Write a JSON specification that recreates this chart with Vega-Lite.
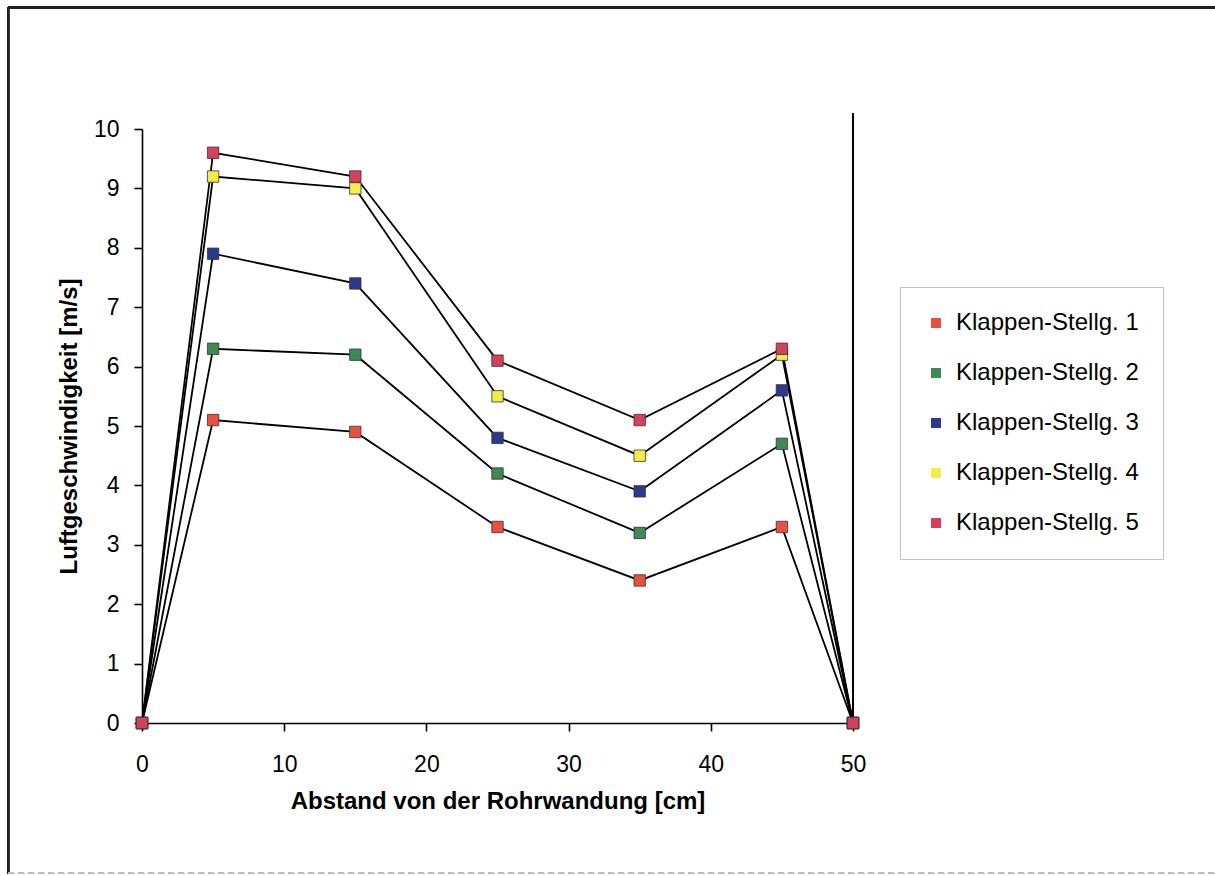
{
  "$schema": "https://vega.github.io/schema/vega-lite/v6.json",
  "width": 711,
  "height": 594,
  "autosize": {"type": "none"},
  "padding": {"left": 142, "top": 129, "right": 362, "bottom": 153},
  "background": "white",
  "config": {
    "view": {"stroke": null},
    "font": "Liberation Sans",
    "axis": {
      "grid": false,
      "domainColor": "black",
      "domainWidth": 1.6,
      "tickColor": "black",
      "tickWidth": 1.6,
      "tickSize": 8,
      "labelColor": "black",
      "labelFontSize": 23,
      "labelFont": "Liberation Sans",
      "titleFont": "Liberation Sans",
      "titleFontSize": 24,
      "titleFontWeight": "bold",
      "titleColor": "black",
      "labelFlush": false,
      "labelOverlap": false
    }
  },
  "data": {
    "values": [
      {"x": 0, "v": 0, "s": "Klappen-Stellg. 1"},
      {"x": 5, "v": 5.1, "s": "Klappen-Stellg. 1"},
      {"x": 15, "v": 4.9, "s": "Klappen-Stellg. 1"},
      {"x": 25, "v": 3.3, "s": "Klappen-Stellg. 1"},
      {"x": 35, "v": 2.4, "s": "Klappen-Stellg. 1"},
      {"x": 45, "v": 3.3, "s": "Klappen-Stellg. 1"},
      {"x": 50, "v": 0, "s": "Klappen-Stellg. 1"},
      {"x": 0, "v": 0, "s": "Klappen-Stellg. 2"},
      {"x": 5, "v": 6.3, "s": "Klappen-Stellg. 2"},
      {"x": 15, "v": 6.2, "s": "Klappen-Stellg. 2"},
      {"x": 25, "v": 4.2, "s": "Klappen-Stellg. 2"},
      {"x": 35, "v": 3.2, "s": "Klappen-Stellg. 2"},
      {"x": 45, "v": 4.7, "s": "Klappen-Stellg. 2"},
      {"x": 50, "v": 0, "s": "Klappen-Stellg. 2"},
      {"x": 0, "v": 0, "s": "Klappen-Stellg. 3"},
      {"x": 5, "v": 7.9, "s": "Klappen-Stellg. 3"},
      {"x": 15, "v": 7.4, "s": "Klappen-Stellg. 3"},
      {"x": 25, "v": 4.8, "s": "Klappen-Stellg. 3"},
      {"x": 35, "v": 3.9, "s": "Klappen-Stellg. 3"},
      {"x": 45, "v": 5.6, "s": "Klappen-Stellg. 3"},
      {"x": 50, "v": 0, "s": "Klappen-Stellg. 3"},
      {"x": 0, "v": 0, "s": "Klappen-Stellg. 4"},
      {"x": 5, "v": 9.2, "s": "Klappen-Stellg. 4"},
      {"x": 15, "v": 9.0, "s": "Klappen-Stellg. 4"},
      {"x": 25, "v": 5.5, "s": "Klappen-Stellg. 4"},
      {"x": 35, "v": 4.5, "s": "Klappen-Stellg. 4"},
      {"x": 45, "v": 6.2, "s": "Klappen-Stellg. 4"},
      {"x": 50, "v": 0, "s": "Klappen-Stellg. 4"},
      {"x": 0, "v": 0, "s": "Klappen-Stellg. 5"},
      {"x": 5, "v": 9.6, "s": "Klappen-Stellg. 5"},
      {"x": 15, "v": 9.2, "s": "Klappen-Stellg. 5"},
      {"x": 25, "v": 6.1, "s": "Klappen-Stellg. 5"},
      {"x": 35, "v": 5.1, "s": "Klappen-Stellg. 5"},
      {"x": 45, "v": 6.3, "s": "Klappen-Stellg. 5"},
      {"x": 50, "v": 0, "s": "Klappen-Stellg. 5"}
    ]
  },
  "layer": [
    {
      "mark": {"type": "rule", "color": "#222", "strokeWidth": 2},
      "encoding": {
        "x": {"datum": -9.42, "type": "quantitative"},
        "x2": {"datum": 76},
        "y": {"datum": 12.05, "type": "quantitative"}
      }
    },
    {
      "mark": {"type": "rule", "color": "#222", "strokeWidth": 2},
      "encoding": {
        "x": {"datum": -9.42, "type": "quantitative"},
        "y": {"datum": -2.53, "type": "quantitative"},
        "y2": {"datum": 12.05}
      }
    },
    {
      "mark": {"type": "rule", "color": "#bbbbbb", "strokeWidth": 1.5, "strokeDash": [6, 4]},
      "encoding": {
        "x": {"datum": -9.42, "type": "quantitative"},
        "x2": {"datum": 76},
        "y": {"datum": -2.53, "type": "quantitative"}
      }
    },
    {
      "mark": {"type": "rule", "color": "black", "strokeWidth": 2},
      "encoding": {
        "x": {"datum": 50, "type": "quantitative"},
        "y": {"datum": 0, "type": "quantitative"},
        "y2": {"datum": 10.27}
      }
    },
    {
      "mark": {"type": "line", "color": "black", "strokeWidth": 1.8},
      "encoding": {
        "x": {
          "field": "x",
          "type": "quantitative",
          "scale": {"domain": [0, 50], "nice": false},
          "axis": {
            "values": [0, 10, 20, 30, 40, 50],
            "format": "d",
            "title": "Abstand von der Rohrwandung [cm]",
            "labelPadding": 22,
            "titlePadding": 13
          }
        },
        "y": {
          "field": "v",
          "type": "quantitative",
          "scale": {"domain": [0, 10], "nice": false},
          "axis": {
            "values": [0, 1, 2, 3, 4, 5, 6, 7, 8, 9, 10],
            "format": "d",
            "title": "Luftgeschwindigkeit [m/s]",
            "labelPadding": 15,
            "titlePadding": 12
          }
        },
        "detail": {"field": "s"}
      }
    },
    {
      "mark": {"type": "point", "shape": "square", "filled": true, "size": 130, "stroke": "#333333", "strokeWidth": 0.8, "opacity": 1},
      "encoding": {
        "x": {"field": "x", "type": "quantitative"},
        "y": {"field": "v", "type": "quantitative"},
        "color": {
          "field": "s",
          "type": "nominal",
          "scale": {
            "domain": ["Klappen-Stellg. 1", "Klappen-Stellg. 2", "Klappen-Stellg. 3", "Klappen-Stellg. 4", "Klappen-Stellg. 5"],
            "range": ["#e8503f", "#3d8a55", "#2b3a8c", "#f3ec4a", "#d6405c"]
          },
          "legend": {
            "orient": "none",
            "legendX": 758,
            "legendY": 158,
            "title": null,
            "labelFontSize": 24,
            "labelFont": "Liberation Sans",
            "labelColor": "black",
            "labelLimit": 300,
            "symbolType": "square",
            "symbolSize": 100,
            "symbolStrokeWidth": 0,
            "symbolOpacity": 1,
            "padding": 24,
            "rowPadding": 26,
            "labelOffset": 8,
            "strokeColor": "#c0c0c0",
            "fillColor": "white"
          }
        }
      }
    }
  ]
}
